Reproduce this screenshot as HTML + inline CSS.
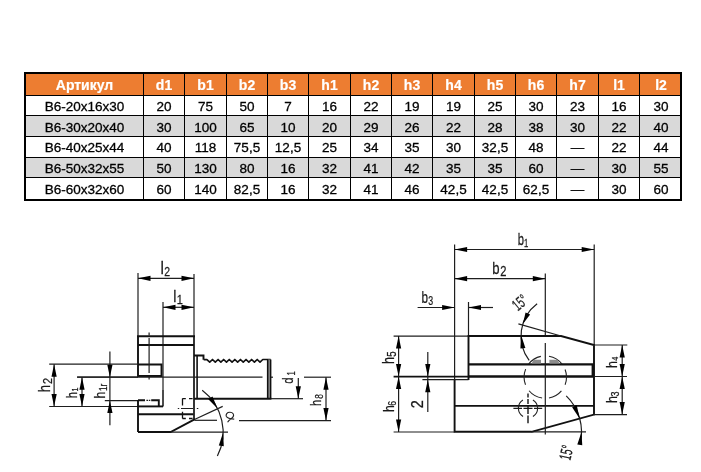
<!DOCTYPE html>
<html><head><meta charset="utf-8">
<style>
html,body{margin:0;padding:0;background:#fff;}
body{width:701px;height:472px;overflow:hidden;position:relative;}
svg{position:absolute;left:0;top:0;will-change:transform;}
text{font-family:"Liberation Sans",sans-serif;}
.h{font-size:14px;font-weight:bold;fill:#fff;stroke:#fff;stroke-width:0.2px;text-anchor:middle;}
.d{font-size:13.5px;fill:#000;stroke:#000;stroke-width:0.3px;text-anchor:middle;}
</style></head><body>
<svg width="701" height="472" viewBox="0 0 701 472">
<rect x="24" y="72" width="658" height="23" fill="#ED7D31"/>
<rect x="24" y="115" width="658" height="21" fill="#D9D9D9"/>
<rect x="24" y="157" width="658" height="20" fill="#D9D9D9"/>
<rect x="24" y="95" width="658" height="1" fill="#000"/>
<rect x="24" y="115" width="658" height="1" fill="#000"/>
<rect x="24" y="136" width="658" height="1" fill="#000"/>
<rect x="24" y="157" width="658" height="1" fill="#000"/>
<rect x="24" y="177" width="658" height="1" fill="#000"/>
<rect x="143" y="72" width="1" height="129" fill="#000"/>
<rect x="184" y="72" width="1" height="129" fill="#000"/>
<rect x="226" y="72" width="1" height="129" fill="#000"/>
<rect x="267" y="72" width="1" height="129" fill="#000"/>
<rect x="308" y="72" width="1" height="129" fill="#000"/>
<rect x="350" y="72" width="1" height="129" fill="#000"/>
<rect x="391" y="72" width="1" height="129" fill="#000"/>
<rect x="432" y="72" width="1" height="129" fill="#000"/>
<rect x="474" y="72" width="1" height="129" fill="#000"/>
<rect x="515" y="72" width="1" height="129" fill="#000"/>
<rect x="556" y="72" width="1" height="129" fill="#000"/>
<rect x="598" y="72" width="1" height="129" fill="#000"/>
<rect x="639" y="72" width="1" height="129" fill="#000"/>
<rect x="24" y="72" width="658" height="2" fill="#000"/>
<rect x="24" y="199" width="658" height="2" fill="#000"/>
<rect x="24" y="72" width="2" height="129" fill="#000"/>
<rect x="680" y="72" width="2" height="129" fill="#000"/>
<text x="84.5" y="89.8" class="h">Артикул</text>
<text x="164.0" y="89.8" class="h">d1</text>
<text x="205.5" y="89.8" class="h">b1</text>
<text x="247.0" y="89.8" class="h">b2</text>
<text x="288.0" y="89.8" class="h">b3</text>
<text x="329.5" y="89.8" class="h">h1</text>
<text x="371.0" y="89.8" class="h">h2</text>
<text x="412.0" y="89.8" class="h">h3</text>
<text x="453.5" y="89.8" class="h">h4</text>
<text x="495.0" y="89.8" class="h">h5</text>
<text x="536.0" y="89.8" class="h">h6</text>
<text x="577.5" y="89.8" class="h">h7</text>
<text x="619.0" y="89.8" class="h">l1</text>
<text x="661.0" y="89.8" class="h">l2</text>
<text x="84.5" y="110.8" class="d">В6-20х16х30</text>
<text x="164.0" y="110.8" class="d">20</text>
<text x="205.5" y="110.8" class="d">75</text>
<text x="247.0" y="110.8" class="d">50</text>
<text x="288.0" y="110.8" class="d">7</text>
<text x="329.5" y="110.8" class="d">16</text>
<text x="371.0" y="110.8" class="d">22</text>
<text x="412.0" y="110.8" class="d">19</text>
<text x="453.5" y="110.8" class="d">19</text>
<text x="495.0" y="110.8" class="d">25</text>
<text x="536.0" y="110.8" class="d">30</text>
<text x="577.5" y="110.8" class="d">23</text>
<text x="619.0" y="110.8" class="d">16</text>
<text x="661.0" y="110.8" class="d">30</text>
<text x="84.5" y="131.5" class="d">В6-30х20х40</text>
<text x="164.0" y="131.5" class="d">30</text>
<text x="205.5" y="131.5" class="d">100</text>
<text x="247.0" y="131.5" class="d">65</text>
<text x="288.0" y="131.5" class="d">10</text>
<text x="329.5" y="131.5" class="d">20</text>
<text x="371.0" y="131.5" class="d">29</text>
<text x="412.0" y="131.5" class="d">26</text>
<text x="453.5" y="131.5" class="d">22</text>
<text x="495.0" y="131.5" class="d">28</text>
<text x="536.0" y="131.5" class="d">38</text>
<text x="577.5" y="131.5" class="d">30</text>
<text x="619.0" y="131.5" class="d">22</text>
<text x="661.0" y="131.5" class="d">40</text>
<text x="84.5" y="152.3" class="d">В6-40х25х44</text>
<text x="164.0" y="152.3" class="d">40</text>
<text x="205.5" y="152.3" class="d">118</text>
<text x="247.0" y="152.3" class="d">75,5</text>
<text x="288.0" y="152.3" class="d">12,5</text>
<text x="329.5" y="152.3" class="d">25</text>
<text x="371.0" y="152.3" class="d">34</text>
<text x="412.0" y="152.3" class="d">35</text>
<text x="453.5" y="152.3" class="d">30</text>
<text x="495.0" y="152.3" class="d">32,5</text>
<text x="536.0" y="152.3" class="d">48</text>
<text x="577.5" y="152.3" class="d">—</text>
<text x="619.0" y="152.3" class="d">22</text>
<text x="661.0" y="152.3" class="d">44</text>
<text x="84.5" y="173.1" class="d">В6-50х32х55</text>
<text x="164.0" y="173.1" class="d">50</text>
<text x="205.5" y="173.1" class="d">130</text>
<text x="247.0" y="173.1" class="d">80</text>
<text x="288.0" y="173.1" class="d">16</text>
<text x="329.5" y="173.1" class="d">32</text>
<text x="371.0" y="173.1" class="d">41</text>
<text x="412.0" y="173.1" class="d">42</text>
<text x="453.5" y="173.1" class="d">35</text>
<text x="495.0" y="173.1" class="d">35</text>
<text x="536.0" y="173.1" class="d">60</text>
<text x="577.5" y="173.1" class="d">—</text>
<text x="619.0" y="173.1" class="d">30</text>
<text x="661.0" y="173.1" class="d">55</text>
<text x="84.5" y="193.9" class="d">В6-60х32х60</text>
<text x="164.0" y="193.9" class="d">60</text>
<text x="205.5" y="193.9" class="d">140</text>
<text x="247.0" y="193.9" class="d">82,5</text>
<text x="288.0" y="193.9" class="d">16</text>
<text x="329.5" y="193.9" class="d">32</text>
<text x="371.0" y="193.9" class="d">41</text>
<text x="412.0" y="193.9" class="d">46</text>
<text x="453.5" y="193.9" class="d">42,5</text>
<text x="495.0" y="193.9" class="d">42,5</text>
<text x="536.0" y="193.9" class="d">62,5</text>
<text x="577.5" y="193.9" class="d">—</text>
<text x="619.0" y="193.9" class="d">30</text>
<text x="661.0" y="193.9" class="d">60</text>
<line x1="138" y1="273" x2="138" y2="336" stroke="#1e1e1e" stroke-width="1.2"/>
<line x1="194" y1="274" x2="194" y2="336" stroke="#1e1e1e" stroke-width="1.2"/>
<line x1="138" y1="278.3" x2="194" y2="278.3" stroke="#1e1e1e" stroke-width="1.2"/>
<path d="M138.00,278.30 L150.50,275.70 L150.50,280.90 Z" fill="#000"/>
<path d="M194.00,278.30 L181.50,280.90 L181.50,275.70 Z" fill="#000"/>
<line x1="163" y1="302" x2="163" y2="390" stroke="#1e1e1e" stroke-width="1.2"/>
<line x1="163" y1="390" x2="163" y2="406.5" stroke="#111" stroke-width="1.5"/>
<line x1="163" y1="307.3" x2="194" y2="307.3" stroke="#1e1e1e" stroke-width="1.2"/>
<path d="M163.00,307.30 L175.50,304.70 L175.50,309.90 Z" fill="#000"/>
<path d="M194.00,307.30 L181.50,309.90 L181.50,304.70 Z" fill="#000"/>
<line x1="137" y1="336.3" x2="195" y2="336.3" stroke="#111" stroke-width="1.9"/>
<line x1="138" y1="345" x2="194" y2="345" stroke="#111" stroke-width="1.9"/>
<line x1="138" y1="336.3" x2="138" y2="377" stroke="#111" stroke-width="1.9"/>
<line x1="194" y1="336.3" x2="194" y2="420.5" stroke="#111" stroke-width="1.7"/>
<path d="M138,364.5 H161.5 V376 H138" stroke="#111" stroke-width="1.9" fill="none"/>
<path d="M149.1,332.4 V335.5 M149.1,338 V373 M149.1,377 V379.4" stroke="#1e1e1e" stroke-width="1.2" fill="none"/>
<line x1="77" y1="377.2" x2="262.5" y2="377.2" stroke="#1e1e1e" stroke-width="1.2"/>
<line x1="269.5" y1="377.2" x2="273" y2="377.2" stroke="#1e1e1e" stroke-width="1.2"/>
<line x1="49.2" y1="364.2" x2="138" y2="364.2" stroke="#1e1e1e" stroke-width="1.2"/>
<line x1="49.2" y1="406.5" x2="138" y2="406.5" stroke="#1e1e1e" stroke-width="1.2"/>
<line x1="104.8" y1="400.6" x2="138" y2="400.6" stroke="#1e1e1e" stroke-width="1.2"/>
<path d="M138,400.3 H145 M151.2,400.3 H158.8 V406.4" stroke="#111" stroke-width="1.9" fill="none"/>
<path d="M146.4,400.3 H148 M148.8,400.3 H150.3" stroke="#1e1e1e" stroke-width="1.2" fill="none"/>
<line x1="138" y1="406.4" x2="163" y2="406.4" stroke="#111" stroke-width="1.9"/>
<line x1="138" y1="400" x2="138" y2="432" stroke="#111" stroke-width="1.9"/>
<line x1="138" y1="414.3" x2="193.5" y2="414.3" stroke="#111" stroke-width="1.9"/>
<path d="M138,432 H170.6 L195,419.2" stroke="#111" stroke-width="1.9" fill="none"/>
<path d="M182.4,398.6 H185.8 M189,398.6 H192.6 M182.5,398.6 V405.4 M182.5,411.8 V418.5 M182.4,418.5 H185.8 M189,418.5 H192.6" stroke="#111" stroke-width="1.3" fill="none"/>
<path d="M177.8,408.5 H179.2 M181,408.5 H193 M196.8,408.5 H198.3" stroke="#1e1e1e" stroke-width="1.2" fill="none"/>
<line x1="197.1" y1="355.6" x2="197.1" y2="398.5" stroke="#111" stroke-width="1.6"/>
<path d="M194,355.5 H203.5 V359.7" stroke="#111" stroke-width="1.9" fill="none"/>
<path d="M203.7,359.6 L206.9,359.6 L209.70,362.1 L212.49,359.5 L215.29,362.1 L218.08,359.5 L220.88,362.1 L223.67,359.5 L226.47,362.1 L229.26,359.5 L232.06,362.1 L234.85,359.5 L237.65,362.1 L240.44,359.5 L243.24,362.1 L246.03,359.5 L248.83,362.1 L251.62,359.5 L254.42,362.1 L257.21,359.5 L260.01,362.1 L262.8,359.5 L270.6,359.5" stroke="#111" stroke-width="1.7" fill="none" stroke-linejoin="round"/>
<rect x="268" y="359.5" width="2.4" height="39" fill="#999"/>
<line x1="194" y1="398.7" x2="271.4" y2="398.7" stroke="#111" stroke-width="1.9"/>
<line x1="270.6" y1="359.5" x2="270.6" y2="398.7" stroke="#111" stroke-width="1.6"/>
<line x1="267.7" y1="359.5" x2="267.7" y2="398.7" stroke="#111" stroke-width="1.6"/>
<line x1="271" y1="398.7" x2="303" y2="398.7" stroke="#1e1e1e" stroke-width="1.2"/>
<line x1="298.3" y1="378" x2="298.3" y2="398.7" stroke="#1e1e1e" stroke-width="1.2"/>
<path d="M298.30,398.70 L295.70,386.20 L300.90,386.20 Z" fill="#000"/>
<line x1="304" y1="377.2" x2="331" y2="377.2" stroke="#1e1e1e" stroke-width="1.2"/>
<line x1="239" y1="420.6" x2="331" y2="420.6" stroke="#1e1e1e" stroke-width="1.2"/>
<line x1="326" y1="377.2" x2="326" y2="420.6" stroke="#1e1e1e" stroke-width="1.2"/>
<path d="M326.00,377.20 L328.60,389.70 L323.40,389.70 Z" fill="#000"/>
<path d="M326.00,420.60 L323.40,408.10 L328.60,408.10 Z" fill="#000"/>
<line x1="195" y1="419.2" x2="222.7" y2="406.4" stroke="#1e1e1e" stroke-width="1.2"/>
<line x1="195" y1="420.3" x2="217" y2="420.3" stroke="#1e1e1e" stroke-width="1.2"/>
<line x1="170.6" y1="432.2" x2="228" y2="432.2" stroke="#1e1e1e" stroke-width="1.2"/>
<path d="M202.20,390.27 A52.5,52.5 0 0 1 217.38,456.03" stroke="#1e1e1e" stroke-width="1.2" fill="none"/>
<path d="M217.50,408.61 L208.32,399.35 L212.48,396.58 Z" fill="#000"/>
<path d="M223.10,432.38 L223.77,446.21 L218.81,445.54 Z" fill="#000"/>
<path d="M234.2,419.1 C231,418.9 227.4,418.6 226.4,416.6 C225.3,414.2 227.2,412.2 230,412.3 C233,412.4 234.3,414.6 233.2,416.6 C232.2,418.4 229.2,419.6 227.6,422.2" stroke="#222" stroke-width="1.15" fill="none"/>
<line x1="54.1" y1="364.2" x2="54.1" y2="406.5" stroke="#1e1e1e" stroke-width="1.2"/>
<path d="M54.10,364.20 L56.70,376.70 L51.50,376.70 Z" fill="#000"/>
<path d="M54.10,406.50 L51.50,394.00 L56.70,394.00 Z" fill="#000"/>
<line x1="77.2" y1="377.2" x2="138" y2="377.2" stroke="#1e1e1e" stroke-width="1.2"/>
<line x1="82" y1="377.2" x2="82" y2="406.5" stroke="#1e1e1e" stroke-width="1.2"/>
<path d="M82.00,377.20 L84.60,389.70 L79.40,389.70 Z" fill="#000"/>
<path d="M82.00,406.50 L79.40,394.00 L84.60,394.00 Z" fill="#000"/>
<line x1="109.9" y1="351.4" x2="109.9" y2="425.2" stroke="#1e1e1e" stroke-width="1.2"/>
<path d="M109.90,377.20 L107.30,364.70 L112.50,364.70 Z" fill="#000"/>
<path d="M109.90,400.60 L112.50,413.10 L107.30,413.10 Z" fill="#000"/>
<line x1="454.6" y1="244.4" x2="454.6" y2="380" stroke="#1e1e1e" stroke-width="1.2"/>
<line x1="594.2" y1="244.4" x2="594.2" y2="345" stroke="#1e1e1e" stroke-width="1.2"/>
<line x1="454.6" y1="249.5" x2="594.2" y2="249.5" stroke="#1e1e1e" stroke-width="1.2"/>
<path d="M454.60,249.50 L467.10,246.90 L467.10,252.10 Z" fill="#000"/>
<path d="M594.20,249.50 L581.70,252.10 L581.70,246.90 Z" fill="#000"/>
<line x1="545.3" y1="273.4" x2="545.3" y2="336" stroke="#1e1e1e" stroke-width="1.2"/>
<line x1="454.6" y1="278.7" x2="545.3" y2="278.7" stroke="#1e1e1e" stroke-width="1.2"/>
<path d="M454.60,278.70 L467.10,276.10 L467.10,281.30 Z" fill="#000"/>
<path d="M545.30,278.70 L532.80,281.30 L532.80,276.10 Z" fill="#000"/>
<line x1="468.5" y1="302" x2="468.5" y2="336" stroke="#1e1e1e" stroke-width="1.2"/>
<line x1="417.6" y1="307.5" x2="454.6" y2="307.5" stroke="#1e1e1e" stroke-width="1.2"/>
<line x1="468.5" y1="307.5" x2="493" y2="307.5" stroke="#1e1e1e" stroke-width="1.2"/>
<path d="M454.60,307.50 L442.10,310.10 L442.10,304.90 Z" fill="#000"/>
<path d="M468.50,307.50 L481.00,304.90 L481.00,310.10 Z" fill="#000"/>
<line x1="393.6" y1="336.1" x2="468.5" y2="336.1" stroke="#1e1e1e" stroke-width="1.2"/>
<path d="M468.5,380 V336 H561 L594,345 V414.6 L531.5,431.8 H454.6 V379.4" stroke="#111" stroke-width="1.9" fill="none"/>
<line x1="468.5" y1="364.4" x2="594" y2="364.4" stroke="#111" stroke-width="2.3"/>
<line x1="468.5" y1="376.5" x2="594" y2="376.5" stroke="#111" stroke-width="2.3"/>
<line x1="592.8" y1="364.4" x2="592.8" y2="376.5" stroke="#111" stroke-width="2.4"/>
<line x1="454.6" y1="405.9" x2="594" y2="405.9" stroke="#111" stroke-width="1.9"/>
<line x1="393.6" y1="376.6" x2="468.5" y2="376.6" stroke="#111" stroke-width="1.6"/>
<line x1="422.4" y1="379.7" x2="468.5" y2="379.7" stroke="#1e1e1e" stroke-width="1.2"/>
<line x1="393.6" y1="432" x2="454.6" y2="432" stroke="#1e1e1e" stroke-width="1.2"/>
<line x1="398.6" y1="336.1" x2="398.6" y2="432" stroke="#1e1e1e" stroke-width="1.2"/>
<path d="M398.60,336.10 L401.20,348.60 L396.00,348.60 Z" fill="#000"/>
<path d="M398.60,376.60 L396.00,364.10 L401.20,364.10 Z" fill="#000"/>
<path d="M398.60,376.60 L401.20,389.10 L396.00,389.10 Z" fill="#000"/>
<path d="M398.60,432.00 L396.00,419.50 L401.20,419.50 Z" fill="#000"/>
<line x1="427.8" y1="352" x2="427.8" y2="412" stroke="#1e1e1e" stroke-width="1.2"/>
<path d="M427.80,376.60 L425.20,364.10 L430.40,364.10 Z" fill="#000"/>
<path d="M427.80,379.70 L430.40,392.20 L425.20,392.20 Z" fill="#000"/>
<line x1="594" y1="345" x2="627.3" y2="345" stroke="#1e1e1e" stroke-width="1.2"/>
<line x1="594" y1="376.5" x2="627" y2="376.5" stroke="#1e1e1e" stroke-width="1.2"/>
<line x1="594" y1="414.6" x2="627" y2="414.6" stroke="#1e1e1e" stroke-width="1.2"/>
<line x1="622.2" y1="345" x2="622.2" y2="414.6" stroke="#1e1e1e" stroke-width="1.2"/>
<path d="M622.20,345.00 L624.80,357.50 L619.60,357.50 Z" fill="#000"/>
<path d="M622.20,376.50 L619.60,364.00 L624.80,364.00 Z" fill="#000"/>
<path d="M622.20,376.50 L624.80,389.00 L619.60,389.00 Z" fill="#000"/>
<path d="M622.20,414.60 L619.60,402.10 L624.80,402.10 Z" fill="#000"/>
<line x1="518.4" y1="323.8" x2="561" y2="336" stroke="#1e1e1e" stroke-width="1.2"/>
<line x1="531.5" y1="431.8" x2="586" y2="431.8" stroke="#1e1e1e" stroke-width="1.2"/>
<line x1="545.3" y1="343" x2="545.3" y2="434.5" stroke="#1e1e1e" stroke-width="1.2"/>
<path d="M565.09,369.50 A21.2,21.2 0 0 1 565.09,384.70" stroke="#222" stroke-width="1.1" fill="none"/>
<path d="M561.42,390.87 A21.2,21.2 0 0 1 548.98,397.98" stroke="#222" stroke-width="1.1" fill="none"/>
<path d="M542.09,398.06 A21.2,21.2 0 0 1 529.06,390.73" stroke="#222" stroke-width="1.1" fill="none"/>
<path d="M525.51,384.70 A21.2,21.2 0 0 1 525.64,369.16" stroke="#222" stroke-width="1.1" fill="none"/>
<path d="M528.59,364.05 A21.2,21.2 0 0 1 540.89,356.36" stroke="#222" stroke-width="1.1" fill="none"/>
<path d="M548.98,356.22 A21.2,21.2 0 0 1 562.01,364.05" stroke="#222" stroke-width="1.1" fill="none"/>
<path d="M523.06,416.43 A9.6,9.6 0 0 1 522.91,400.06" stroke="#222" stroke-width="1.1" fill="none"/>
<path d="M532.94,399.97 A9.6,9.6 0 0 1 532.94,416.43" stroke="#222" stroke-width="1.1" fill="none"/>
<path d="M513.4,408.3 H522 M523.5,408.3 H532.5 M534,408.3 H542.2" stroke="#1e1e1e" stroke-width="1.2" fill="none"/>
<path d="M528,393.5 V397.5 M528,399 V404 M528,405.5 V414 M528,415.5 V423.2" stroke="#111" stroke-width="1.38" fill="none"/>
<path d="M531.6,363.4 L533.6,359.8 H541 V363.4 Z M549.4,363.4 V359.8 H557.4 L559.6,363.4 Z" fill="#8c8c8c"/>
<path d="M537.13,303.66 A40.5,40.5 0 0 0 529.16,360.37" stroke="#1e1e1e" stroke-width="1.2" fill="none"/>
<path d="M522.71,324.36 L525.58,312.40 L530.11,314.54 Z" fill="#000"/>
<path d="M521.02,334.66 L525.37,347.90 L520.42,348.59 Z" fill="#000"/>
<path d="M566.23,395.83 A50,50 0 0 1 580.01,443.90" stroke="#1e1e1e" stroke-width="1.2" fill="none"/>
<path d="M579.82,418.94 L572.14,407.17 L576.75,405.23 Z" fill="#000"/>
<path d="M581.50,431.97 L582.25,445.16 L577.30,444.49 Z" fill="#000"/>
<text transform="translate(160.50,273.75) scale(0.840,1)" fill="#1a1a1a" stroke="#1a1a1a" stroke-width="0.25" class="t"><tspan font-size="18.28">l</tspan><tspan font-size="12.44" dy="1.79" dx="0.4047619047619725">2</tspan></text>
<text transform="translate(173.25,302.00) scale(0.840,1)" fill="#1a1a1a" stroke="#1a1a1a" stroke-width="0.25" class="t"><tspan font-size="16.84">l</tspan><tspan font-size="13.06" dy="1.67" dx="0.4047619047619725">1</tspan></text>
<text transform="translate(517.70,244.80) scale(0.669,1)" fill="#1a1a1a" stroke="#1a1a1a" stroke-width="0.25" class="t"><tspan font-size="16.84">b</tspan><tspan font-size="11.53" dy="2.22" dx="0.0">1</tspan></text>
<text transform="translate(492.30,274.00) scale(0.780,1)" fill="#1a1a1a" stroke="#1a1a1a" stroke-width="0.25" class="t"><tspan font-size="16.84">b</tspan><tspan font-size="14.30" dy="2.02" dx="0.6692624366600232">2</tspan></text>
<text transform="translate(421.45,303.20) scale(0.715,1)" fill="#1a1a1a" stroke="#1a1a1a" stroke-width="0.25" class="t"><tspan font-size="16.35">b</tspan><tspan font-size="12.36" dy="1.42" dx="0.5481660547151074">3</tspan></text>
<text transform="translate(49.80,392.25) rotate(-90) scale(0.840,1)" fill="#1a1a1a" stroke="#1a1a1a" stroke-width="0.25" class="t"><tspan font-size="15.77">h</tspan><tspan font-size="12.99" dy="1.82" dx="1.1957324570130008">2</tspan></text>
<text transform="translate(77.45,398.30) rotate(-90) scale(0.748,1)" fill="#1a1a1a" stroke="#1a1a1a" stroke-width="0.25" class="t"><tspan font-size="14.67">h</tspan><tspan font-size="9.48" dy="1.03" dx="0.8943234697565924">1</tspan></text>
<text transform="translate(104.95,398.60) rotate(-90) scale(0.801,1)" fill="#1a1a1a" stroke="#1a1a1a" stroke-width="0.25" class="t"><tspan font-size="15.30">h</tspan><tspan font-size="10.31" dy="1.55" dx="0.9286686490192212">1r</tspan></text>
<text transform="translate(292.75,383.80) rotate(-90) scale(0.722,1)" fill="#1a1a1a" stroke="#1a1a1a" stroke-width="0.25" class="t"><tspan font-size="15.48">d</tspan><tspan font-size="10.54" dy="2.57" dx="3.0402164145542026">1</tspan></text>
<text transform="translate(320.55,406.10) rotate(-90) scale(0.723,1)" fill="#1a1a1a" stroke="#1a1a1a" stroke-width="0.25" class="t"><tspan font-size="15.30">h</tspan><tspan font-size="11.57" dy="2.62" dx="1.7605859518243534">8</tspan></text>
<text transform="translate(394.00,364.00) rotate(-90) scale(0.800,1)" fill="#1a1a1a" stroke="#1a1a1a" stroke-width="0.25" class="t"><tspan font-size="15.77">h</tspan><tspan font-size="12.09" dy="1.91" dx="0.3000000000000711">5</tspan></text>
<text transform="translate(393.55,412.00) rotate(-90) scale(0.800,1)" fill="#1a1a1a" stroke="#1a1a1a" stroke-width="0.25" class="t"><tspan font-size="15.30">h</tspan><tspan font-size="10.90" dy="2.17" dx="-0.6249999999998579">6</tspan></text>
<text transform="translate(616.55,368.00) rotate(-90) scale(0.816,1)" fill="#1a1a1a" stroke="#1a1a1a" stroke-width="0.25" class="t"><tspan font-size="15.30">h</tspan><tspan font-size="8.93" dy="1.25" dx="0.4021146090539912">4</tspan></text>
<text transform="translate(616.55,403.00) rotate(-90) scale(0.816,1)" fill="#1a1a1a" stroke="#1a1a1a" stroke-width="0.25" class="t"><tspan font-size="15.30">h</tspan><tspan font-size="11.01" dy="2.17" dx="-0.6185855526158589">3</tspan></text>
<text transform="translate(422.60,408.30) rotate(-90) scale(0.857,1)" fill="#1a1a1a" stroke="#1a1a1a" stroke-width="0.25" class="t"><tspan font-size="16.88">2</tspan></text>
<text transform="translate(517.80,311.50) rotate(-40) scale(0.600,1)" fill="#1a1a1a" stroke="#1a1a1a" stroke-width="0.25" class="t"><tspan font-size="16.20">15°</tspan></text>
<text transform="translate(570.30,460.90) rotate(-77) scale(0.570,1)" fill="#1a1a1a" stroke="#1a1a1a" stroke-width="0.25" class="t"><tspan font-size="16.80">15°</tspan></text>
</svg>
</body></html>
